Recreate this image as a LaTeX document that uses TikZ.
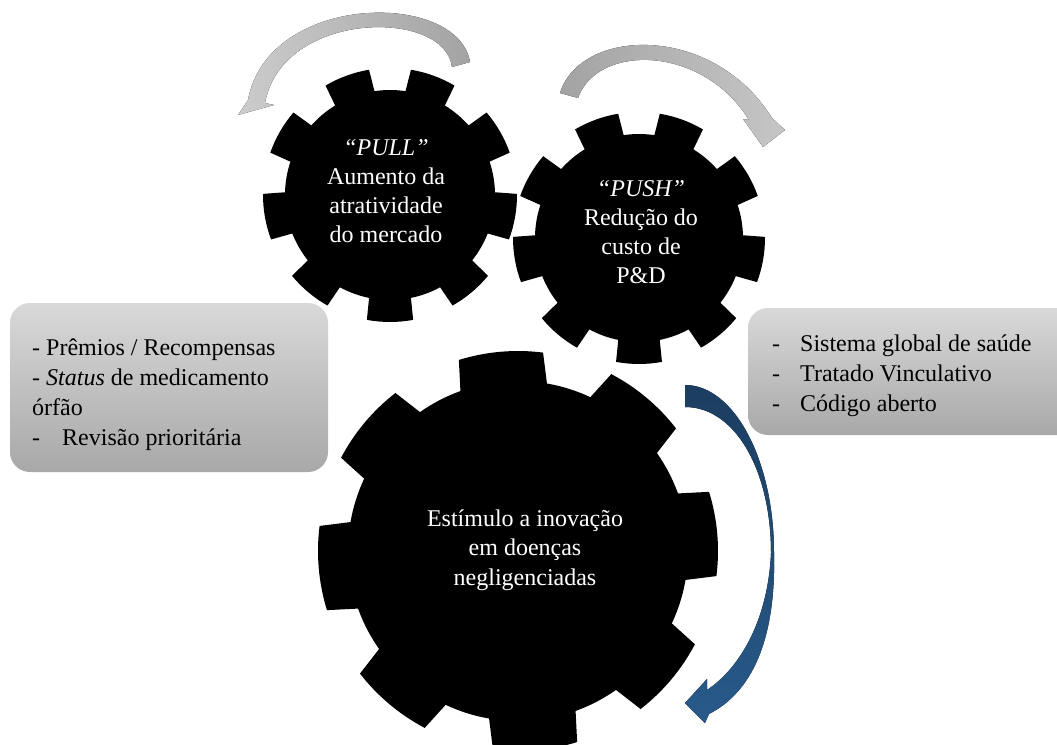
\documentclass[tikz,border=0pt]{standalone}
\usepackage{fontspec}
\setmainfont{Liberation Serif}
\definecolor{bluedark}{RGB}{27,61,96}
\definecolor{bluelight}{RGB}{40,90,138}
\tikzset{
  geartext/.style={text=white, align=center, font=\fontsize{24}{29}\selectfont, inner sep=0pt},
  boxtext/.style={text=black, align=left, font=\fontsize{24}{30}\selectfont, inner sep=0pt, anchor=west},
  panel/.style={rounded corners=20pt, top color=gray!30, bottom color=gray!68},
  cog/.style={fill=black},
}
% toothed wheel: centre x, centre y, tip radius, root radius, teeth,
% angle of first tooth, half angle of a tooth at tip, half angle at root
\newcommand\drawgear[8]{%
  \pgfmathsetmacro\gstep{360/#5}%
  \pgfmathtruncatemacro\glast{#5-1}%
  \begin{scope}[shift={(#1,#2)}]
    \fill[cog] ({#6-#8}:#4)
      \foreach \k in {0,...,\glast}{
        -- ({#6+\k*\gstep-#7}:#3)
        arc[start angle={#6+\k*\gstep-#7}, end angle={#6+\k*\gstep+#7}, radius=#3]
        -- ({#6+\k*\gstep+#8}:#4)
        arc[start angle={#6+\k*\gstep+#8}, end angle={#6+(\k+1)*\gstep-#8}, radius=#4]
      } -- cycle;
  \end{scope}}
\begin{document}
\begin{tikzpicture}[x=1pt,y=-1pt]
  \clip (0,0) rectangle (1057,744);
  \fill[white] (0,0) rectangle (1057,744);

  % curved grey arrows above the two small wheels
  \fill[left color=gray!40, right color=gray!72]
    (470,62) .. controls (458,-10) and (268,-8) .. (248,100)
    -- (238,115) -- (274,105) -- (265,103)
    .. controls (282,10) and (445,8) .. (452,67) -- cycle;
  \fill[left color=gray!72, right color=gray!45]
    (560,93) .. controls (580,28) and (712,22) .. (772,118)
    -- (785,130) -- (763,147) -- (743,119) -- (749,120)
    .. controls (702,44) and (597,44) .. (578,98) -- cycle;

  % wheels
  \drawgear{390}{195}{127}{105}{9}{290}{10.5}{11.5}
  \drawgear{639}{238}{126}{104}{9}{290}{10.5}{11.5}
  \drawgear{518}{551}{200}{170}{8}{265}{12.2}{14.8}

  \node[geartext] (pulltext) at (386,191)
    {\textit{“PULL”}\\Aumento da\\atratividade\\do mercado};
  \node[geartext] (pushtext) at (641,232)
    {\textit{“PUSH”}\\Redução do\\custo de\\P\&D};
  \node[geartext, font=\fontsize{24}{29.5}\selectfont] (coretext) at (525,550)
    {Estímulo a inovação\\em doenças\\negligenciadas};

  % blue curved arrow round the large wheel
  \fill[top color=bluedark, bottom color=bluelight]
    (685,385) .. controls (734,385) and (774,460) .. (774,553)
    .. controls (776,640) and (752,692) .. (709,714)
    -- (705,723) -- (685,703) -- (707,679) -- (707,690)
    .. controls (740,668) and (768,620) .. (771,553)
    .. controls (771,470) and (735,407) .. (685,407) -- cycle;

  % list panels
  \shade[panel] (10,303) rectangle (328,472);
  \shade[panel] (748,308) rectangle (1080,435);

  \node[boxtext] (leftlist) at (32,395)
    {- Prêmios / Recompensas\\- \textit{Status} de medicamento\\órfão\\-\hspace{22pt}Revisão prioritária};
  \node[boxtext] (rightlist) at (772,376)
    {-\hspace{20pt}Sistema global de saúde\\-\hspace{20pt}Tratado Vinculativo\\-\hspace{20pt}Código aberto};
\end{tikzpicture}
\end{document}
